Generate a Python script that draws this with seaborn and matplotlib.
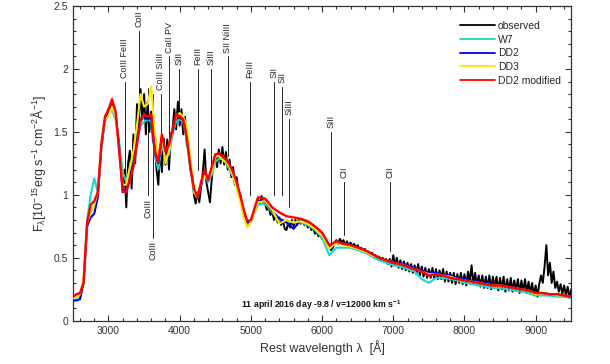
import numpy as np
import pandas as pd
import matplotlib
matplotlib.use("Agg")
import matplotlib.pyplot as plt
import matplotlib.ticker as ticker
import seaborn as sns

# model spectra grid: 50 A steps up to 4950, then 100 A steps
model_wave = list(range(2500, 5000, 50)) + list(range(5000, 9501, 100))

dd2mod_flux = [
    0.19, 0.21, 0.22, 0.30, 0.78, 0.92, 0.95, 1.02, 1.40, 1.62,
    1.68, 1.76, 1.66, 1.35, 1.03, 1.02, 1.12, 1.22, 1.40, 1.58,
    1.64, 1.62, 1.64, 1.35, 1.26, 1.48, 1.34, 1.40, 1.52, 1.64,
    1.62, 1.60, 1.45, 1.22, 1.05, 0.98, 1.10, 1.20, 1.12, 1.22,
    1.32, 1.33, 1.31, 1.28, 1.24, 1.18, 1.10, 1.00, 0.88, 0.79,
    0.80, 0.98, 0.97, 0.90, 0.86, 0.83, 0.82, 0.81, 0.79, 0.75,
    0.70, 0.60, 0.63, 0.61, 0.60, 0.58, 0.56, 0.53, 0.50, 0.48,
    0.46, 0.45, 0.43, 0.41, 0.39, 0.36, 0.37, 0.36, 0.34, 0.33,
    0.32, 0.31, 0.30, 0.29, 0.28, 0.28, 0.27, 0.26, 0.25, 0.24,
    0.22, 0.22, 0.21, 0.21, 0.20, 0.19,
]
w7_flux = [
    0.16, 0.17, 0.18, 0.32, 0.80, 1.00, 1.13, 1.02, 1.38, 1.58,
    1.64, 1.67, 1.60, 1.42, 1.18, 1.10, 1.20, 1.30, 1.45, 1.55,
    1.58, 1.60, 1.58, 1.32, 1.20, 1.40, 1.30, 1.32, 1.48, 1.58,
    1.60, 1.58, 1.43, 1.20, 1.02, 0.98, 1.08, 1.17, 1.10, 1.16,
    1.26, 1.29, 1.28, 1.25, 1.20, 1.14, 1.06, 0.96, 0.84, 0.76,
    0.78, 0.92, 0.93, 0.86, 0.80, 0.79, 0.78, 0.78, 0.76, 0.72,
    0.66, 0.52, 0.58, 0.58, 0.58, 0.56, 0.54, 0.51, 0.48, 0.46,
    0.44, 0.43, 0.41, 0.39, 0.33, 0.30, 0.34, 0.34, 0.33, 0.32,
    0.30, 0.29, 0.28, 0.27, 0.26, 0.26, 0.25, 0.24, 0.23, 0.22,
    0.20, 0.20, 0.20, 0.19, 0.19, 0.18,
]
dd2_flux = [
    0.16, 0.16, 0.17, 0.30, 0.75, 0.82, 0.85, 0.98, 1.38, 1.60,
    1.67, 1.72, 1.64, 1.38, 1.02, 1.05, 1.15, 1.25, 1.45, 1.60,
    1.64, 1.60, 1.62, 1.34, 1.25, 1.45, 1.32, 1.38, 1.50, 1.62,
    1.61, 1.60, 1.48, 1.24, 1.04, 0.98, 1.08, 1.18, 1.12, 1.20,
    1.29, 1.31, 1.29, 1.26, 1.22, 1.16, 1.08, 0.98, 0.86, 0.78,
    0.79, 0.95, 0.95, 0.87, 0.81, 0.78, 0.73, 0.80, 0.78, 0.74,
    0.69, 0.58, 0.62, 0.61, 0.60, 0.58, 0.56, 0.53, 0.50, 0.48,
    0.47, 0.46, 0.44, 0.42, 0.40, 0.38, 0.38, 0.37, 0.36, 0.34,
    0.33, 0.32, 0.31, 0.30, 0.29, 0.28, 0.27, 0.26, 0.25, 0.24,
    0.22, 0.22, 0.21, 0.21, 0.20, 0.19,
]
dd3_flux = [
    0.18, 0.19, 0.21, 0.34, 0.78, 0.86, 0.92, 1.02, 1.40, 1.60,
    1.62, 1.70, 1.62, 1.36, 1.08, 1.08, 1.22, 1.35, 1.55, 1.80,
    1.70, 1.72, 1.86, 1.50, 1.30, 1.48, 1.25, 1.35, 1.52, 1.62,
    1.65, 1.62, 1.55, 1.30, 1.02, 0.98, 1.10, 1.15, 1.13, 1.18,
    1.30, 1.31, 1.28, 1.26, 1.22, 1.15, 1.05, 0.95, 0.82, 0.74,
    0.78, 0.94, 0.95, 0.88, 0.77, 0.80, 0.78, 0.79, 0.77, 0.73,
    0.68, 0.57, 0.62, 0.60, 0.59, 0.57, 0.55, 0.52, 0.50, 0.48,
    0.46, 0.45, 0.43, 0.41, 0.39, 0.37, 0.37, 0.36, 0.35, 0.33,
    0.32, 0.31, 0.30, 0.29, 0.28, 0.28, 0.27, 0.26, 0.25, 0.24,
    0.21, 0.22, 0.21, 0.20, 0.20, 0.19,
]

# observed spectrum, 25 A steps from 3200 A (one row = 250 A)
obs_start, obs_step = 3200, 25
obs_flux = [
    1.05, 1.20, 0.90, 1.25, 1.35, 1.05, 1.48, 1.25, 1.72, 1.55,
    1.84, 1.60, 1.80, 1.48, 1.74, 1.50, 1.66, 1.42, 1.40, 1.20,
    1.08, 1.38, 1.18, 1.45, 1.24, 1.44, 1.20, 1.48, 1.52, 1.68,
    1.52, 1.74, 1.55, 1.68, 1.48, 1.62, 1.40, 1.36, 1.20, 1.16,
    1.00, 0.93, 1.02, 0.94, 1.06, 1.18, 1.36, 1.10, 1.02, 0.94,
    1.12, 1.26, 1.32, 1.22, 1.36, 1.25, 1.38, 1.24, 1.34, 1.20,
    1.28, 1.14, 1.22, 1.08, 1.14, 1.02, 1.00, 0.92, 0.88, 0.80,
    0.78, 0.76, 0.80, 0.82, 0.88, 0.92, 0.96, 0.93, 0.99, 0.94,
    0.93, 0.88, 0.91, 0.84, 0.87, 0.80, 0.84, 0.78, 0.82, 0.76,
    0.80, 0.73, 0.72, 0.78, 0.74, 0.80, 0.75, 0.80, 0.76, 0.81,
    0.77, 0.80, 0.76, 0.78, 0.74, 0.76, 0.72, 0.74, 0.69, 0.71,
    0.67, 0.69, 0.65, 0.66, 0.62, 0.62, 0.58, 0.56, 0.58, 0.61,
    0.64, 0.61, 0.65, 0.62, 0.64, 0.60, 0.63, 0.60, 0.62, 0.59,
    0.61, 0.58, 0.60, 0.57, 0.58, 0.55, 0.57, 0.54, 0.55, 0.53,
    0.54, 0.51, 0.52, 0.49, 0.51, 0.48, 0.50, 0.47, 0.49, 0.45,
    0.49, 0.43, 0.52, 0.44, 0.50, 0.42, 0.48, 0.41, 0.47, 0.40,
    0.46, 0.39, 0.45, 0.38, 0.44, 0.37, 0.45, 0.36, 0.43, 0.35,
    0.42, 0.34, 0.41, 0.34, 0.42, 0.33, 0.41, 0.33, 0.40, 0.33,
    0.41, 0.31, 0.39, 0.31, 0.38, 0.30, 0.38, 0.29, 0.37, 0.30,
    0.38, 0.29, 0.37, 0.28, 0.39, 0.31, 0.44, 0.29, 0.38, 0.28,
    0.36, 0.27, 0.36, 0.26, 0.35, 0.26, 0.36, 0.25, 0.35, 0.26,
    0.35, 0.24, 0.34, 0.25, 0.35, 0.23, 0.33, 0.24, 0.34, 0.23,
    0.32, 0.24, 0.33, 0.22, 0.32, 0.23, 0.33, 0.22, 0.31, 0.21,
    0.30, 0.20, 0.28, 0.19, 0.29, 0.36, 0.30, 0.43, 0.60, 0.36,
    0.46, 0.30, 0.39, 0.26, 0.31, 0.23, 0.29, 0.21, 0.28, 0.20,
    0.27, 0.18, 0.25,
]
obs_wave = obs_start + obs_step * np.arange(len(obs_flux))

# line identifications: label, wavelength, line top, line bottom
ids_above = [
    ("CoIII FeIII", 3227, 1.90, 1.05),
    ("CoII", 3422, 2.30, 1.70),
    ("CoIII SiIII", 3735, 1.80, 1.40),
    ("CaII PV", 3854, 2.10, 1.40),
    ("SiII", 3989, 2.00, 1.65),
    ("FeIII", 4259, 2.00, 1.20),
    ("SiIII", 4438, 2.00, 1.05),
    ("SII NiIII", 4676, 2.10, 1.31),
    ("FeIII", 4989, 1.90, 1.00),
    ("SII", 5324, 1.90, 1.00),
    ("SII", 5432, 1.86, 1.00),
    ("SiIII", 5541, 1.60, 0.90),
    ("SiII", 6124, 1.50, 0.60),
    ("CII", 6313, 1.10, 0.68),
    ("CII", 6951, 1.10, 0.55),
]
ids_below = [
    ("CoIII", 3551, 1.85, 1.00),
    ("CoIII", 3622, 1.80, 0.66),
]

series = [
    ("observed", obs_wave, obs_flux, "black", 1.4),
    ("W7", model_wave, w7_flux, "#1fd3d3", 1.5),
    ("DD2", model_wave, dd2_flux, "#0000e6", 1.5),
    ("DD3", model_wave, dd3_flux, "#ffe600", 1.5),
    ("DD2 modified", model_wave, dd2mod_flux, "#ff0000", 1.7),
]

sns.set_theme(style="ticks")
plt.rcParams["font.family"] = ["Liberation Sans", "DejaVu Sans"]
plt.rcParams["mathtext.fontset"] = "custom"
plt.rcParams["mathtext.rm"] = "Liberation Sans"
plt.rcParams["mathtext.it"] = "Liberation Sans:italic"
plt.rcParams["mathtext.bf"] = "Liberation Sans:bold"
plt.rcParams["mathtext.default"] = "regular"

fig = plt.figure(figsize=(6.1, 3.64), dpi=100)
ax = fig.add_axes([0.1195, 0.119, 0.817, 0.8646])

for name, wave, flux, color, lw in series:
    df = pd.DataFrame({"wave": wave, "flux": flux})
    sns.lineplot(data=df, x="wave", y="flux", ax=ax, color=color, linewidth=lw,
                 label=name, estimator=None, sort=False, zorder=3)

for label, wl, top, bottom in ids_above:
    ax.plot([wl, wl], [bottom, top], color="#222222", lw=0.7, zorder=2)
    ax.text(wl, top + 0.03, label, rotation=90, ha="center", va="bottom",
            fontsize=6.5, color="#222222")
for label, wl, top, bottom in ids_below:
    ax.plot([wl, wl], [bottom, top], color="#222222", lw=0.7, zorder=2)
    ax.text(wl, bottom - 0.03, label, rotation=90, ha="center", va="top",
            fontsize=6.5, color="#222222")

ax.text(5990, 0.12, "11 april 2016 day -9.8 / v=12000 km s$^{-1}$",
        ha="center", va="center", fontsize=6.3, fontweight="bold", color="#111111")

ax.set_xlim(2500, 9500)
ax.set_ylim(0, 2.5)
ax.xaxis.set_major_locator(ticker.MultipleLocator(1000))
ax.xaxis.set_minor_locator(ticker.MultipleLocator(200))
ax.yaxis.set_major_locator(ticker.MultipleLocator(0.5))
ax.yaxis.set_minor_locator(ticker.MultipleLocator(0.1))
ax.yaxis.set_major_formatter(ticker.FuncFormatter(lambda v, p: f"{v:g}"))
ax.tick_params(which="both", direction="in", top=True, right=True,
               labelsize=7.5, labelcolor="#333333", color="#333333", width=0.8)
ax.tick_params(which="major", length=4)
ax.tick_params(which="minor", length=2.5)
for s in ax.spines.values():
    s.set_color("#333333")
    s.set_linewidth(0.9)

ax.set_xlabel("Rest wavelength λ  [Å]", fontsize=9, color="#333333", labelpad=3)
ax.set_ylabel("F$_{λ}$[10$^{-15}$erg s$^{-1}$ cm$^{-2}$Å$^{-1}$]",
              fontsize=9, color="#333333", labelpad=4)

leg = ax.legend(loc="upper left", bbox_to_anchor=(0.777, 0.952), frameon=False,
                fontsize=7.5, handlelength=3.3, handletextpad=0.3,
                labelspacing=0.35, borderpad=0, borderaxespad=0)
for h in leg.get_lines():
    h.set_linewidth(1.3)

fig.savefig("out.png", dpi=100)
